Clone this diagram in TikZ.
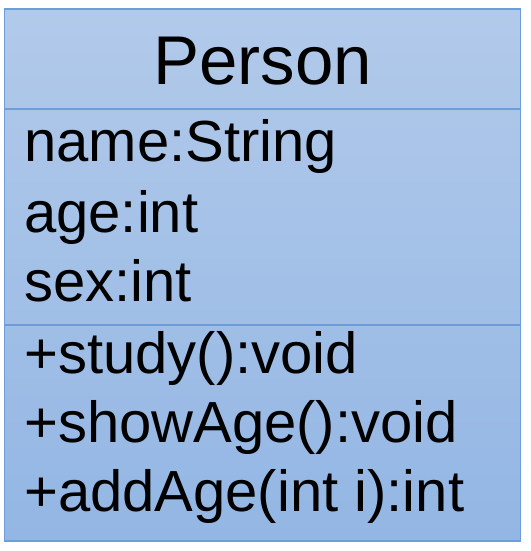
\documentclass[tikz,border=0pt]{standalone}
\usepackage{fontspec}
\setmainfont{Liberation Sans}
\definecolor{boxtop}{RGB}{178,202,234}
\definecolor{boxbot}{RGB}{147,182,228}
\definecolor{boxline}{RGB}{110,158,216}
\tikzset{
  classbox/.style={draw=boxline, line width=1.5pt, top color=boxtop, bottom color=boxbot, minimum width=516pt, minimum height=531.5pt, inner sep=0pt, outer sep=0pt},
  divider/.style={draw=boxline, line width=1.5pt},
  member/.style={anchor=base west, inner sep=0pt, font=\fontsize{58}{60}\selectfont},
  title/.style={anchor=base, inner sep=0pt, font=\fontsize{69}{72}\selectfont}
}
\begin{document}
\begin{tikzpicture}[x=1pt,y=-1pt]
\useasboundingbox (0,0) rectangle (530,551);
\node[classbox] (box) at (262.6,275) {};
\coordinate (d1l) at (4.5,109);
\coordinate (d1r) at (520.7,109);
\coordinate (d2l) at (4.5,325);
\coordinate (d2r) at (520.7,325);
\draw[divider] (d1l) -- (d1r);
\draw[divider] (d2l) -- (d2r);
\node[title] (t) at (262.6,84) {Person};
\node[member] (a1) at (24,161) {name:String};
\node[member] (a2) at (24,232) {age:int};
\node[member] (a3) at (24,301) {sex:int};
\node[member] (m1) at (24,373) {+study():void};
\node[member] (m2) at (24,442) {+showAge():void};
\node[member] (m3) at (24,511) {+addAge(int i):int};
\end{tikzpicture}
\end{document}
